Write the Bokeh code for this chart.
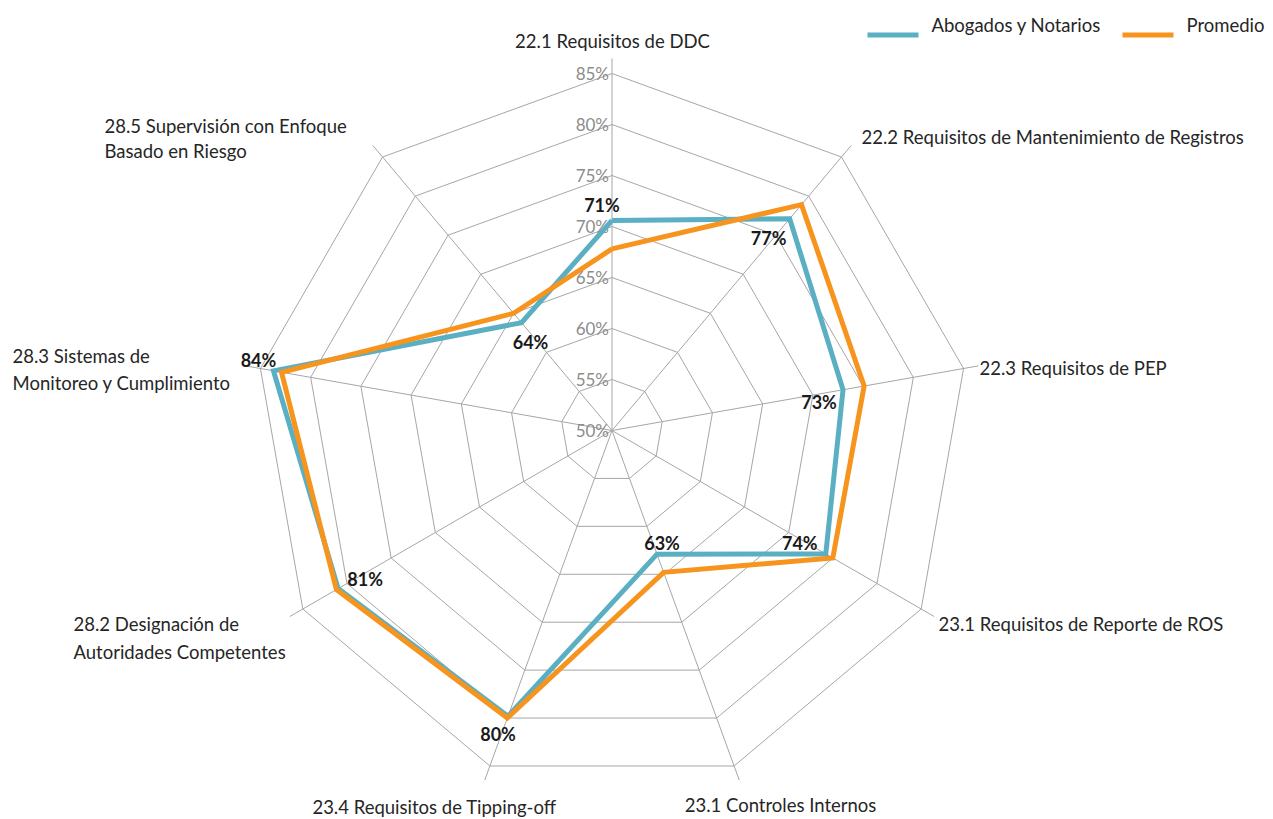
import numpy as np
from bokeh.plotting import figure
from bokeh.models import Range1d
from bokeh.embed import file_html
from bokeh.resources import INLINE
from bokeh.core.properties import value

# ---------------- data ----------------
categories = [
    "22.1 Requisitos de DDC",
    "22.2 Requisitos de Mantenimiento de Registros",
    "22.3 Requisitos de PEP",
    "23.1 Requisitos de Reporte de ROS",
    "23.1 Controles Internos",
    "23.4 Requisitos de Tipping-off",
    "28.2 Designación de\nAutoridades Competentes",
    "28.3 Sistemas de\nMonitoreo y Cumplimiento",
    "28.5 Supervisión con Enfoque\nBasado en Riesgo",
]
abogados = [70.6, 77.1, 73.0, 74.2, 62.9, 79.8, 81.0, 83.7, 63.8]
promedio = [67.8, 78.9, 75.1, 75.0, 64.8, 80.0, 81.2, 82.9, 65.0]
abogados_labels = ["71%", "77%", "73%", "74%", "63%", "80%", "81%", "84%", "64%"]
ring_values = [55, 60, 65, 70, 75, 80, 85]
tick_values = [50, 55, 60, 65, 70, 75, 80, 85]
tick_labels = ["50%", "55%", "60%", "65%", "70%", "75%", "80%", "85%"]
series_names = ["Abogados y Notarios", "Promedio"]

# ---------------- layout ----------------
W, H = 1273, 819
CX, CY = 611.5, 430.0
R = 357.0            # radius of the 85% ring
VMIN, VMAX = 50.0, 85.0
SPOKE_EXTRA = 15.0
BLUE = "#5AAFC3"
ORANGE = "#F7941E"
GRID = "#A6A6A6"
FONT = "Lato"
CAT_SIZE = "18.5px"

n = len(categories)
theta = np.arange(n) * 2 * np.pi / n


def polar(vals):
    r = (np.asarray(vals, dtype=float) - VMIN) / (VMAX - VMIN) * R
    return CX + r * np.sin(theta), CY - r * np.cos(theta)


p = figure(width=W, height=H, output_backend="svg", toolbar_location=None,
           x_range=Range1d(0, W), y_range=Range1d(H, 0),
           min_border=0, outline_line_color=None)
p.axis.visible = False
p.grid.visible = False
p.background_fill_color = "white"
p.border_fill_color = "white"

# rings
rx, ry = [], []
for v in ring_values:
    x, y = polar([v] * n)
    rx.append(list(x) + [x[0]])
    ry.append(list(y) + [y[0]])
p.multi_line(rx, ry, line_color=GRID, line_width=1)

# spokes
r_end = R + SPOKE_EXTRA
sx = [[CX, CX + r_end * np.sin(t)] for t in theta]
sy = [[CY, CY - r_end * np.cos(t)] for t in theta]
p.multi_line(sx, sy, line_color=GRID, line_width=1)

# tick labels along the top spoke
tx = [CX - 3] * len(tick_values)
ty = [CY - (v - VMIN) / (VMAX - VMIN) * R for v in tick_values]
p.text(tx, ty, text=tick_labels, text_align="right", text_baseline="middle",
       text_color="#8C8C8C", text_font=value(FONT), text_font_size="17px")

# series lines
for vals, col in ((abogados, BLUE), (promedio, ORANGE)):
    x, y = polar(vals)
    p.line(list(x) + [x[0]], list(y) + [y[0]], line_color=col, line_width=5,
           line_join="miter")

# data labels for Abogados y Notarios
bx, by = polar(abogados)
lab_dx = [-10, -21, -24, -26, 5, -10, 27, -15, 9]
lab_dy = [-15, 19, 12, -11, -11, 18, -10, -11, 19]
p.text(bx + np.array(lab_dx), by + np.array(lab_dy), text=abogados_labels,
       text_align="center", text_baseline="middle", text_color="#1A1A1A",
       text_font=value(FONT), text_font_style="bold", text_font_size="18px")

# category labels: (x, y of first line, align, line spacing)
cat_pos = [
    (612, 40, "center", 0),
    (861, 136, "left", 0),
    (979, 367, "left", 0),
    (938, 623, "left", 0),
    (780, 804, "center", 0),
    (434, 806, "center", 0),
    (73, 623, "left", 28),
    (12, 355, "left", 27),
    (104, 125, "left", 25),
]
for txt, (x, y, al, dy) in zip(categories, cat_pos):
    lines = txt.split("\n")
    p.text([x] * len(lines), [y + k * dy for k in range(len(lines))], text=lines,
           text_align=al, text_baseline="middle", text_color="#262626",
           text_font=value(FONT), text_font_size=CAT_SIZE)

# legend (drawn manually, like the reference)
leg = [(867, 918, 931), (1122, 1173, 1186)]
for (x0, x1, xt), name, col in zip(leg, series_names, (BLUE, ORANGE)):
    p.line([x0, x1], [34.5, 34.5], line_color=col, line_width=5)
    p.text([xt], [24], text=[name], text_align="left", text_baseline="middle",
           text_color="#262626", text_font=value(FONT), text_font_size=CAT_SIZE)

open("out.html", "w").write(file_html(p, INLINE))
